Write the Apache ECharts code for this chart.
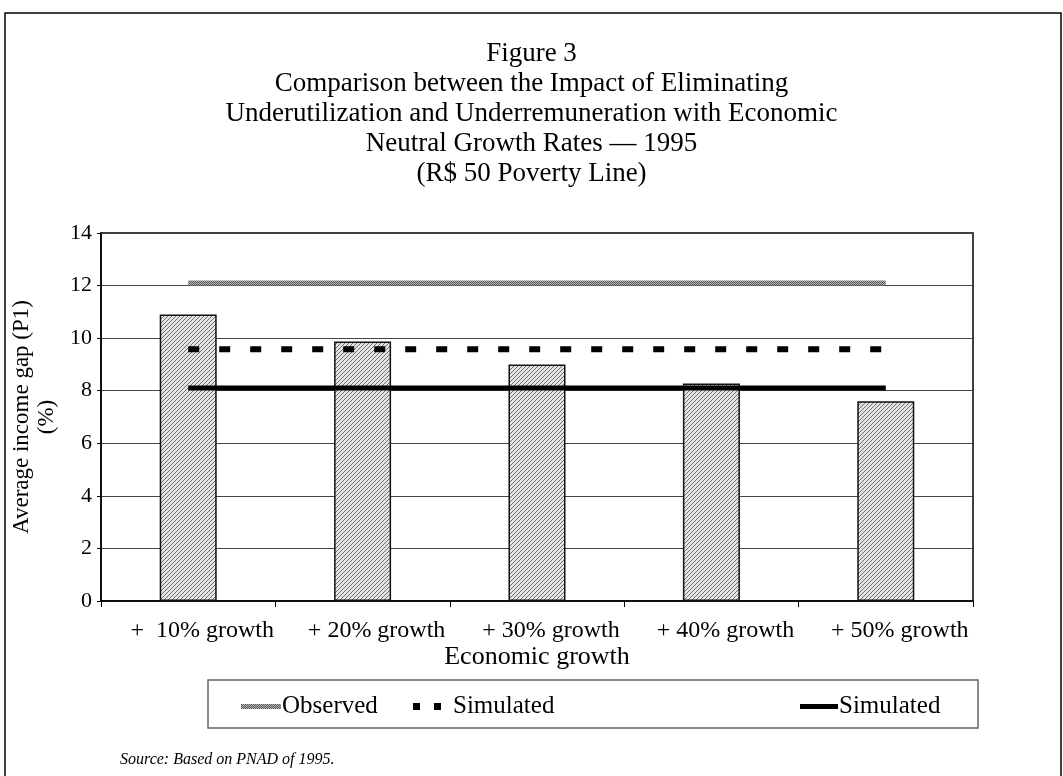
<!DOCTYPE html>
<html>
<head>
<meta charset="utf-8">
<script src="https://cdn.jsdelivr.net/npm/echarts@6/dist/echarts.min.js"></script>
<style>
html,body{margin:0;padding:0;background:#fff;}
#main{width:1063px;height:776px;}
</style>
</head>
<body>
<div id="main"></div>
<script>
var categories = ['+  10% growth', '+ 20% growth', '+ 30% growth', '+ 40% growth', '+ 50% growth'];
var barValues = [10.9, 9.87, 9.0, 8.27, 7.6];
var observed = [12.1, 12.1, 12.1, 12.1, 12.1];
var simulatedDashed = [9.58, 9.58, 9.58, 9.58, 9.58];
var simulatedSolid = [8.1, 8.1, 8.1, 8.1, 8.1];
var yTicks = [0, 2, 4, 6, 8, 10, 12, 14];
var titleLines = ['Figure 3',
  'Comparison between the Impact of Eliminating',
  'Underutilization and Underremuneration with Economic',
  'Neutral Growth Rates \u2014 1995',
  '(R$ 50 Poverty Line)'];

function makeTile(size, fn) {
  var c = document.createElement('canvas');
  c.width = size; c.height = size;
  var ctx = c.getContext('2d');
  fn(ctx);
  return c;
}
var hatch = makeTile(4, function (ctx) {
  ctx.fillStyle = '#e4e4e4'; ctx.fillRect(0, 0, 4, 4);
  ctx.fillStyle = '#707070';
  for (var i = 0; i < 4; i++) { ctx.fillRect(i, 3 - i, 1, 1); }
});
var checker = makeTile(2, function (ctx) {
  ctx.fillStyle = '#b8b8b8'; ctx.fillRect(0, 0, 2, 2);
  ctx.fillStyle = '#555555'; ctx.fillRect(0, 0, 1, 1); ctx.fillRect(1, 1, 1, 1);
});

var FONT = 'Liberation Serif';
var legendText = { fontFamily: FONT, fontSize: 25, color: '#000' };
var chart = echarts.init(document.getElementById('main'));
chart.setOption({
  animation: false,
  backgroundColor: '#fff',
  title: {
    text: titleLines.join('\n'),
    left: 'center', top: 34,
    textStyle: { fontFamily: FONT, fontSize: 27, fontWeight: 'normal', color: '#000', lineHeight: 30 }
  },
  grid: { left: 101, right: 90, top: 233, bottom: 175, show: true, borderColor: '#000', borderWidth: 1.5, containLabel: false },
  legend: [
    { data: ['Observed'], left: 236, top: 689, itemWidth: 40, itemHeight: 5, icon: 'rect',
      textStyle: Object.assign({ padding: [0, 0, 0, -4] }, legendText) },
    { data: ['SimDashed'], left: 408, top: 689, itemWidth: 28, itemHeight: 7,
      icon: 'path://M0 0H7V7H0Z M21 0H28V7H21Z',
      formatter: function () { return 'Simulated'; },
      textStyle: Object.assign({ padding: [0, 0, 0, 7] }, legendText) },
    { data: ['SimSolid'], left: 795, top: 689, itemWidth: 38, itemHeight: 5, icon: 'rect',
      formatter: function () { return 'Simulated'; },
      textStyle: Object.assign({ padding: [0, 0, 0, -4] }, legendText) }
  ],
  xAxis: {
    type: 'category', data: categories, boundaryGap: true,
    name: 'Economic growth', nameLocation: 'middle', nameGap: 42,
    nameTextStyle: { fontFamily: FONT, fontSize: 26, color: '#000' },
    axisLine: { lineStyle: { color: '#000', width: 1.5 } },
    axisTick: { show: true, interval: 0, length: 6, lineStyle: { color: '#000' } },
    axisLabel: { interval: 0, hideOverlap: false, fontFamily: FONT, fontSize: 24, color: '#000', margin: 18,
      padding: [0, 0, 0, 28] }
  },
  yAxis: {
    type: 'value', min: yTicks[0], max: yTicks[yTicks.length - 1], interval: 2,
    name: 'Average income gap (P1)\n(%)', nameLocation: 'middle', nameGap: 34, nameRotate: 90,
    nameTextStyle: { fontFamily: FONT, fontSize: 23, color: '#000', lineHeight: 25 },
    axisLine: { show: true, lineStyle: { color: '#000', width: 1.5 } },
    axisTick: { show: true, length: 4, lineStyle: { color: '#000' } },
    axisLabel: { fontFamily: FONT, fontSize: 22, color: '#000', margin: 9 },
    splitLine: { show: true, lineStyle: { color: '#444', width: 1 } }
  },
  series: [
    { name: 'Bars', type: 'bar', data: barValues, barWidth: 57, z: 2,
      itemStyle: { color: { image: hatch, repeat: 'repeat' }, borderColor: '#111', borderWidth: 1.5 } },
    { name: 'Observed', type: 'line', data: observed, showSymbol: false, symbol: 'none', z: 3,
      lineStyle: { color: { image: checker, repeat: 'repeat' }, width: 5 },
      itemStyle: { color: { image: checker, repeat: 'repeat' } } },
    { name: 'SimDashed', type: 'line', data: simulatedDashed, showSymbol: false, symbol: 'none', z: 4,
      lineStyle: { color: '#000', width: 6, type: [11, 20], cap: 'butt' },
      itemStyle: { color: '#000' } },
    { name: 'SimSolid', type: 'line', data: simulatedSolid, showSymbol: false, symbol: 'none', z: 4,
      lineStyle: { color: '#000', width: 5 }, itemStyle: { color: '#000' } }
  ],
  graphic: [
    { type: 'rect', shape: { x: 5, y: 13, width: 1056, height: 800 }, silent: true, z: -10,
      style: { fill: null, stroke: '#000', lineWidth: 1.5 } },
    { type: 'rect', shape: { x: 208, y: 680, width: 770, height: 48 }, silent: true, z: -5,
      style: { fill: null, stroke: '#666', lineWidth: 1.5 } },
    { type: 'text', left: 120, top: 752, silent: true,
      style: { text: 'Source: Based on PNAD of 1995.', font: 'italic 16px "Liberation Serif"', fill: '#000' } }
  ]
});
</script>
</body>
</html>
